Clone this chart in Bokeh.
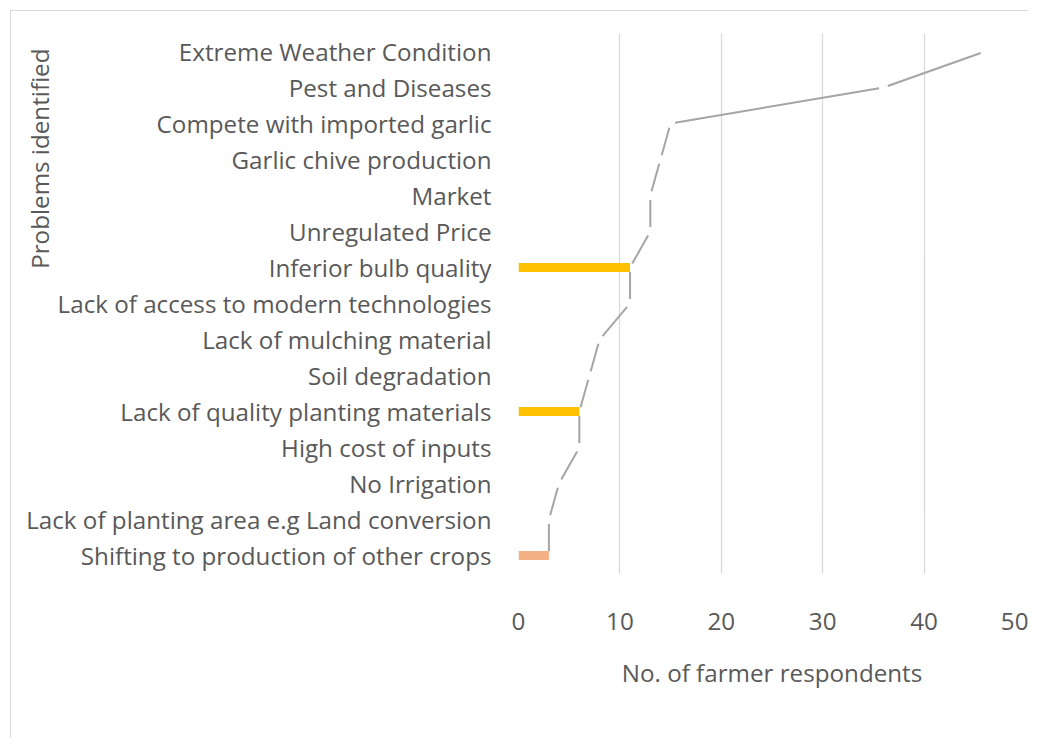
import math
from bokeh.plotting import figure
from bokeh.models import Range1d, FixedTicker, ColumnDataSource, Title, InlineStyleSheet
from bokeh.embed import file_html
from bokeh.resources import INLINE

categories = [
    "Extreme Weather Condition",
    "Pest and Diseases",
    "Compete with imported garlic",
    "Garlic chive production",
    "Market",
    "Unregulated Price",
    "Inferior bulb quality",
    "Lack of access to modern technologies",
    "Lack of mulching material",
    "Soil degradation",
    "Lack of quality planting materials",
    "High cost of inputs",
    "No Irrigation",
    "Lack of planting area e.g Land conversion",
    "Shifting to production of other crops",
]
line_values = [46, 36, 15, 14, 13, 13, 11, 11, 8, 7, 6, 6, 4, 3, 3]
bar_values = [0, 0, 0, 0, 0, 0, 11, 0, 0, 0, 6, 0, 0, 0, 3]
bar_colors = ["#FFC000"] * 14 + ["#F4B183"]
x_ticks = [0, 10, 20, 30, 40, 50]

W, H = 1028, 738
LEFT, RIGHT, TOP, BOTTOM = 518, 3, 33, 165
FONT = "Open Sans"
TXT = "#595959"
FS = "24.2px"

n = len(categories)
ypos = [n - 1 - i for i in range(n)]

p = figure(width=W, height=H, output_backend="svg", toolbar_location=None,
           x_range=Range1d(0, 50), y_range=Range1d(-0.5, n - 0.5),
           min_border_left=LEFT, min_border_right=RIGHT,
           min_border_top=TOP, min_border_bottom=BOTTOM)
p.outline_line_color = None
p.background_fill_color = "white"
p.stylesheets = [InlineStyleSheet(css=(
    ":host::after { content: ''; position: absolute; left: 10px; top: 10px; "
    "width: 1018px; height: 728px; "
    "border-left: 1.5px solid #d9d9d9; border-top: 1.5px solid #d9d9d9; "
    "border-right: none !important; border-bottom: none !important; "
    "outline: none !important; box-shadow: none !important; "
    "box-sizing: border-box; pointer-events: none; }"))]

# axes
p.xaxis.ticker = FixedTicker(ticks=x_ticks)
p.xaxis.axis_line_color = None
p.xaxis.major_tick_line_color = None
p.xaxis.minor_tick_line_color = None
p.xaxis.major_label_text_font = FONT
p.xaxis.major_label_text_font_size = FS
p.xaxis.major_label_text_color = TXT
p.xaxis.major_label_standoff = 33
p.xaxis.axis_label = "No. of farmer respondents"
p.xaxis.axis_label_text_font = FONT
p.xaxis.axis_label_text_font_size = FS
p.xaxis.axis_label_text_font_style = "normal"
p.xaxis.axis_label_text_color = TXT
p.xaxis.axis_label_standoff = 23

p.yaxis.ticker = FixedTicker(ticks=ypos)
p.yaxis.major_label_overrides = {y: c for y, c in zip(ypos, categories)}
p.yaxis.axis_line_color = None
p.yaxis.major_tick_line_color = None
p.yaxis.minor_tick_line_color = None
p.yaxis.major_label_text_font = FONT
p.yaxis.major_label_text_font_size = FS
p.yaxis.major_label_text_color = TXT
p.yaxis.major_label_standoff = 21

p.xgrid.ticker = FixedTicker(ticks=x_ticks)
p.xgrid.grid_line_color = "#d9d9d9"
p.xgrid.grid_line_width = 1.3
p.ygrid.grid_line_color = None

# bars
src = ColumnDataSource(dict(y=ypos, right=bar_values, color=bar_colors))
p.hbar(y="y", left=0, right="right", height=0.25, fill_color="color",
       line_color=None, source=src)

# line: each segment drawn separately, with a small gap at every vertex
frame_w = W - LEFT - RIGHT
frame_h = H - TOP - BOTTOM
sx = frame_w / 50.0
sy = frame_h / n
gap = 4.5
x0s, y0s, x1s, y1s = [], [], [], []
for i in range(n - 1):
    xa, ya = line_values[i], ypos[i]
    xb, yb = line_values[i + 1], ypos[i + 1]
    L = math.hypot((xb - xa) * sx, (yb - ya) * sy)
    t = gap / L
    x0s.append(xa + (xb - xa) * t)
    y0s.append(ya + (yb - ya) * t)
    x1s.append(xb - (xb - xa) * t)
    y1s.append(yb - (yb - ya) * t)
p.segment(x0=x0s, y0=y0s, x1=x1s, y1=y1s, line_color="#A5A5A5", line_width=2)

# vertical axis title
p.add_layout(Title(text="Problems identified", align="right", vertical_align="bottom",
                   offset=15, standoff=-64, text_font=FONT, text_font_size=FS,
                   text_font_style="normal", text_color=TXT), "left")

open("out.html", "w").write(file_html(p, INLINE))
